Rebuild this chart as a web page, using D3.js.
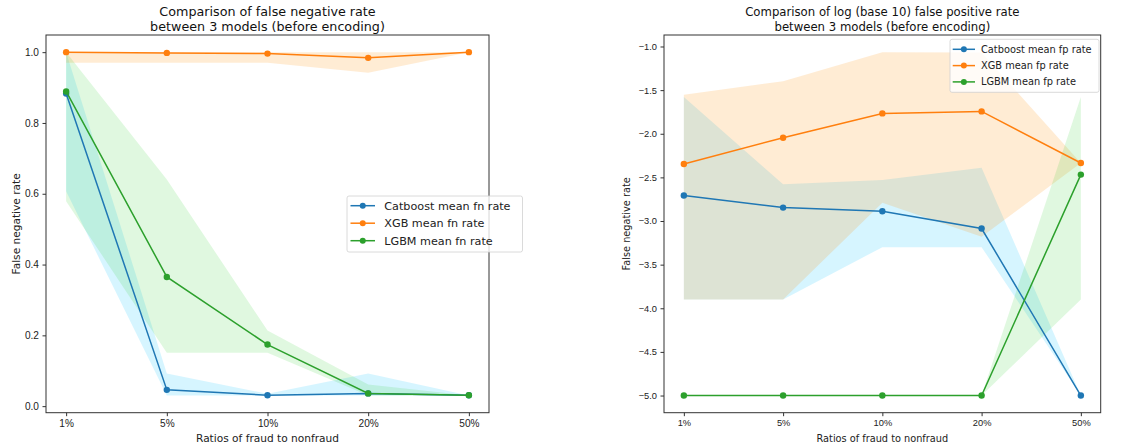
<!DOCTYPE html>
<html>
<head>
<meta charset="utf-8">
<style>
  body { margin: 0; background: #fff; }
  svg { font-family: "DejaVu Sans", sans-serif; }
  .tick text { fill: #222; }
  .tick line, .domain { stroke: #333; }
</style>
</head>
<body>
<svg id="chart" width="1148" height="446"></svg>
<script src="https://d3js.org/d3.v7.min.js"></script>
<script>

// x categories shared by both panels
var ratios = ['1%', '5%', '10%', '20%', '50%']

// left panel: false negative rate (mean, min, max)
var fnCatMean = [0.883, 0.046, 0.031, 0.036, 0.031]
var fnCatLow  = [0.607, 0.030, 0.030, 0.030, 0.030]
var fnCatHigh = [1.000, 0.092, 0.035, 0.092, 0.030]
var fnXgbMean = [1.000, 0.998, 0.996, 0.984, 1.000]
var fnXgbLow  = [0.970, 0.970, 0.970, 0.942, 1.000]
var fnXgbHigh = [1.000, 1.000, 1.000, 1.000, 1.000]
var fnLgbMean = [0.889, 0.365, 0.174, 0.036, 0.031]
var fnLgbLow  = [0.579, 0.151, 0.151, 0.030, 0.030]
var fnLgbHigh = [1.000, 0.640, 0.214, 0.061, 0.030]
var fnTicks = [0.0, 0.2, 0.4, 0.6, 0.8, 1.0]

// right panel: log10 false positive rate (mean, min, max)
var fpCatMean = [-2.708, -2.846, -2.888, -3.086, -5.0]
var fpCatLow  = [-3.90, -3.90, -3.30, -3.30, -5.0]
var fpCatHigh = [-1.58, -2.58, -2.53, -2.39, -5.0]
var fpXgbMean = [-2.347, -2.045, -1.767, -1.744, -2.335]
var fpXgbLow  = [-3.90, -3.90, -2.79, -3.18, -2.335]
var fpXgbHigh = [-1.553, -1.397, -1.065, -1.07, -2.335]
var fpLgbMean = [-5.0, -5.0, -5.0, -5.0, -2.468]
var fpLgbLow  = [-5.0, -5.0, -5.0, -5.0, -3.90]
var fpLgbHigh = [-5.0, -5.0, -5.0, -5.0, -1.58]
var fpTicks = [-5.0, -4.5, -4.0, -3.5, -3.0, -2.5, -2.0, -1.5, -1.0]

var colors = { cat: '#1f77b4', xgb: '#ff7f0e', lgb: '#2ca02c' }
var bandColors = { cat: ['#00bfff', 0.16], xgb: ['#ff8c00', 0.17], lgb: ['#32cd32', 0.15] }

var svg = d3.select('#chart')

function panel(opts) {
  var x = d3.scalePoint().domain(ratios).range([opts.left, opts.right]).padding(0.2)
  var all = [].concat.apply([], opts.series.map(function (s) { return s.low.concat(s.high, s.mean) }))
  var ext = d3.extent(all)
  var pad = (ext[1] - ext[0]) * 0.05
  var y = d3.scaleLinear().domain([ext[0] - pad, ext[1] + pad]).range([opts.bottom, opts.top])

  var g = svg.append('g')

  // bands first
  opts.series.forEach(function (s) {
    var area = d3.area()
      .x(function (d, i) { return x(ratios[i]) })
      .y0(function (d, i) { return y(s.low[i]) })
      .y1(function (d, i) { return y(s.high[i]) })
    g.append('path')
      .attr('d', area(ratios))
      .attr('fill', bandColors[s.key][0])
      .attr('fill-opacity', bandColors[s.key][1])
  })

  // mean lines with markers
  opts.series.forEach(function (s) {
    var line = d3.line()
      .x(function (d, i) { return x(ratios[i]) })
      .y(function (d) { return y(d) })
    g.append('path')
      .attr('d', line(s.mean))
      .attr('fill', 'none')
      .attr('stroke', colors[s.key])
      .attr('stroke-width', 1.5)
    g.selectAll(null).data(s.mean).enter().append('circle')
      .attr('cx', function (d, i) { return x(ratios[i]) })
      .attr('cy', function (d) { return y(d) })
      .attr('r', 3.2)
      .attr('fill', colors[s.key])
  })

  // axes
  g.append('g')
    .attr('transform', 'translate(0,' + opts.bottom + ')')
    .call(d3.axisBottom(x).tickSize(3.5).tickPadding(3.5))
    .call(function (a) { a.select('.domain').remove(); a.selectAll('text').attr('font-size', opts.tfs) })
  g.append('g')
    .attr('transform', 'translate(' + opts.left + ',0)')
    .call(d3.axisLeft(y).tickValues(opts.ticks).tickFormat(d3.format('.1f')).tickSize(3.5).tickPadding(3.5))
    .call(function (a) { a.select('.domain').remove(); a.selectAll('text').attr('font-size', opts.tfs) })

  g.append('rect')
    .attr('x', opts.left).attr('y', opts.top)
    .attr('width', opts.right - opts.left).attr('height', opts.bottom - opts.top)
    .attr('fill', 'none').attr('stroke', '#333').attr('stroke-width', 1)

  // titles & labels
  var cx = (opts.left + opts.right) / 2
  opts.title.forEach(function (t, i) {
    g.append('text').attr('x', cx).attr('y', 15.5 + i * 15)
      .attr('text-anchor', 'middle').attr('font-size', opts.fs * 1.2).attr('fill', '#111').text(t)
  })
  g.append('text').attr('x', cx).attr('y', 442.3)
    .attr('text-anchor', 'middle').attr('font-size', opts.fs).attr('fill', '#222')
    .text('Ratios of fraud to nonfraud')
  g.append('text')
    .attr('transform', 'translate(' + opts.ylabelX + ',' + ((opts.top + opts.bottom) / 2) + ') rotate(-90)')
    .attr('text-anchor', 'middle').attr('font-size', opts.fs).attr('fill', '#222')
    .text('False negative rate')

  // legend
  var L = opts.legend
  var lg = g.append('g').attr('transform', 'translate(' + L.x + ',' + L.y + ')')
  lg.append('rect')
    .attr('width', L.w).attr('height', L.h)
    .attr('rx', 2).attr('fill', '#fff').attr('fill-opacity', 0.8)
    .attr('stroke', '#d0d0d0').attr('stroke-width', 0.8)
  opts.series.forEach(function (s, i) {
    var ry = L.row0 + i * L.step
    lg.append('line').attr('x1', L.h0).attr('x2', L.h1).attr('y1', ry).attr('y2', ry)
      .attr('stroke', colors[s.key]).attr('stroke-width', 1.5)
    lg.append('circle').attr('cx', (L.h0 + L.h1) / 2).attr('cy', ry).attr('r', 3).attr('fill', colors[s.key])
    lg.append('text').attr('x', L.tx).attr('y', ry + L.fs * 0.36)
      .attr('font-size', L.fs).attr('fill', '#222').text(s.label)
  })
}

panel({
  left: 46, right: 489, top: 35, bottom: 412.7, ylabelX: 20, fs: 10.6, tfs: 10.1,
  ticks: fnTicks,
  title: ['Comparison of false negative rate', 'between 3 models (before encoding)'],
  legend: { x: 347, y: 196, w: 175.5, h: 56, row0: 9.7, step: 17.5, h0: 3.5, h1: 28, tx: 37.3, fs: 11.2 },
  series: [
    { key: 'cat', label: 'Catboost mean fn rate', mean: fnCatMean, low: fnCatLow, high: fnCatHigh },
    { key: 'xgb', label: 'XGB mean fn rate', mean: fnXgbMean, low: fnXgbLow, high: fnXgbHigh },
    { key: 'lgb', label: 'LGBM mean fn rate', mean: fnLgbMean, low: fnLgbLow, high: fnLgbHigh }
  ]
})

panel({
  left: 664, right: 1100.7, top: 35, bottom: 412.7, ylabelX: 630, fs: 9.75, tfs: 9.3,
  ticks: fpTicks,
  title: ['Comparison of log (base 10) false positive rate', 'between 3 models (before encoding)'],
  legend: { x: 950, y: 39.3, w: 149, h: 53, row0: 10, step: 16.3, h0: 2.7, h1: 25, tx: 31, fs: 9.8 },
  series: [
    { key: 'cat', label: 'Catboost mean fp rate', mean: fpCatMean, low: fpCatLow, high: fpCatHigh },
    { key: 'xgb', label: 'XGB mean fp rate', mean: fpXgbMean, low: fpXgbLow, high: fpXgbHigh },
    { key: 'lgb', label: 'LGBM mean fp rate', mean: fpLgbMean, low: fpLgbLow, high: fpLgbHigh }
  ]
})

</script>
</body>
</html>
